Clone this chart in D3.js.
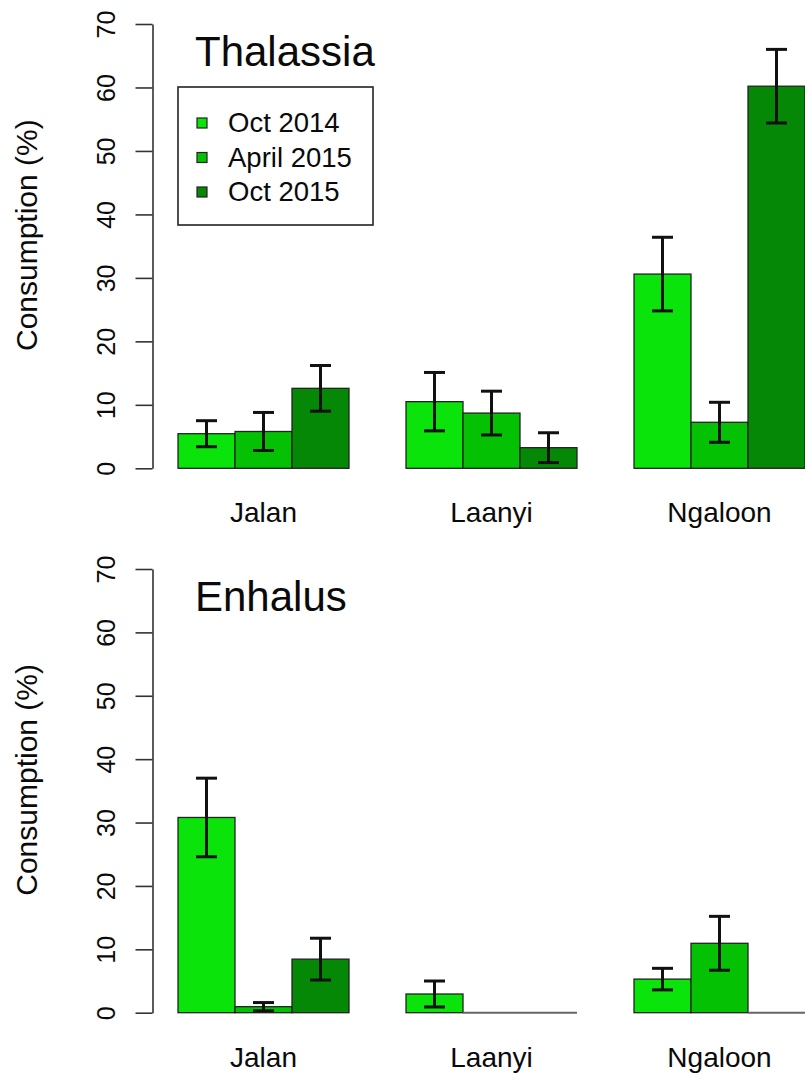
<!DOCTYPE html>
<html>
<head>
<meta charset="utf-8">
<script src="https://cdn.jsdelivr.net/npm/d3@7"></script>
<style>
  html, body { margin: 0; padding: 0; background: #fff; }
  svg { display: block; }
  text { font-family: "Liberation Sans", Arial, Helvetica, sans-serif; fill: #0a0a0a; }
</style>
</head>
<body>
<svg id="chart" width="805" height="1080"></svg>
<script>
// ---- data ----
const sites = ["Jalan", "Laanyi", "Ngaloon"];
const seasons = ["Oct 2014", "April 2015", "Oct 2015"];
const seasonColors = ["#0ae40a", "#04c104", "#058805"];
const yTicks = [0, 10, 20, 30, 40, 50, 60, 70];

// Thalassia: mean consumption (%) per site x season, and SE
const thalassiaMean = [[5.45, 5.8, 12.6], [10.5, 8.7, 3.25], [30.6, 7.25, 60.2]];
const thalassiaSE   = [[2.05, 3.0, 3.6], [4.6, 3.45, 2.35], [5.8, 3.15, 5.8]];
// Enhalus
const enhalusMean = [[30.8, 0.95, 8.45], [2.95, 0, 0], [5.3, 10.95, 0]];
const enhalusSE   = [[6.2, 0.65, 3.3], [2.05, 0, 0], [1.7, 4.25, 0]];

const panels = [
  { title: "Thalassia", mean: thalassiaMean, se: thalassiaSE, y0: 468.3, y1: 24, legend: true },
  { title: "Enhalus", mean: enhalusMean, se: enhalusSE, y0: 1012.7, y1: 569, legend: false }
];

const svg = d3.select("#chart");
const axisX = 152.5;
// x in "bar units": each group = 1 unit space + 3 bars
const x = d3.scaleLinear().domain([0, 12]).range([121, 805]);

panels.forEach(p => {
  const y = d3.scaleLinear().domain([0, 70]).range([p.y0, p.y1]);
  const g = svg.append("g");

  // y axis
  const ax = g.append("g")
    .attr("transform", `translate(${axisX},0)`)
    .call(d3.axisLeft(y).tickValues(yTicks).tickSize(17).tickSizeOuter(0).tickFormat(d3.format("d")));
  ax.select(".domain").attr("stroke", "#333").attr("stroke-width", 1.6);
  ax.selectAll(".tick line").attr("stroke", "#333").attr("stroke-width", 1.6);
  ax.selectAll(".tick text")
    .attr("x", null).attr("dy", null)
    .attr("transform", "translate(-37.5,0) rotate(-90)")
    .attr("text-anchor", "middle")
    .attr("font-size", 25)
    .attr("font-family", "Liberation Sans, Arial, sans-serif")
    .attr("fill", "#0a0a0a");

  // y title
  g.append("text")
    .attr("transform", `translate(37,${y(35) - 11}) rotate(-90)`)
    .attr("text-anchor", "middle")
    .attr("font-size", 30)
    .text("Consumption (%)");

  // bars
  const bars = [];
  sites.forEach((s, gi) => {
    seasons.forEach((se, si) => {
      bars.push({ site: s, si, u: gi * 4 + 1 + si, v: p.mean[gi][si], e: p.se[gi][si] });
    });
  });

  g.selectAll("rect.bar").data(bars.filter(d => d.v > 0)).join("rect")
    .attr("class", "bar")
    .attr("x", d => x(d.u))
    .attr("width", d => x(d.u + 1) - x(d.u))
    .attr("y", d => y(d.v))
    .attr("height", d => y(0) - y(d.v))
    .attr("fill", d => seasonColors[d.si])
    .attr("stroke", "#222")
    .attr("stroke-width", 1.3);

  g.selectAll("line.zero").data(bars.filter(d => d.v === 0)).join("line")
    .attr("class", "zero")
    .attr("x1", d => x(d.u)).attr("x2", d => x(d.u + 1))
    .attr("y1", y(0)).attr("y2", y(0))
    .attr("stroke", "#666").attr("stroke-width", 2);

  // error bars
  const eb = g.selectAll("g.err").data(bars.filter(d => d.e > 0)).join("g").attr("class", "err");
  const cx = d => (x(d.u) + x(d.u + 1)) / 2;
  eb.append("line")
    .attr("x1", cx).attr("x2", cx)
    .attr("y1", d => y(Math.max(0, d.v - d.e))).attr("y2", d => y(d.v + d.e))
    .attr("stroke", "#111").attr("stroke-width", 3);
  [-1, 1].forEach(sgn => {
    eb.append("line")
      .attr("x1", d => cx(d) - 10.5).attr("x2", d => cx(d) + 10.5)
      .attr("y1", d => y(Math.max(0, d.v + sgn * d.e))).attr("y2", d => y(Math.max(0, d.v + sgn * d.e)))
      .attr("stroke", "#111").attr("stroke-width", 3);
  });

  // site labels
  g.selectAll("text.site").data(sites).join("text")
    .attr("class", "site")
    .attr("x", (d, i) => (x(i * 4 + 1) + x(i * 4 + 4)) / 2)
    .attr("y", y(0) + 54)
    .attr("text-anchor", "middle")
    .attr("font-size", 28)
    .text(d => d);

  // panel title
  g.append("text")
    .attr("x", 195)
    .attr("y", y(70) + 42)
    .attr("font-size", 42)
    .text(p.title);

  // legend
  if (p.legend) {
    const lg = g.append("g");
    lg.append("rect")
      .attr("x", 178).attr("y", 87).attr("width", 195).attr("height", 138)
      .attr("fill", "none").attr("stroke", "#222").attr("stroke-width", 1.6);
    const items = lg.selectAll("g.item").data(seasons).join("g")
      .attr("class", "item")
      .attr("transform", (d, i) => `translate(0,${123 + i * 34.5})`);
    items.append("rect")
      .attr("x", 197).attr("y", -5).attr("width", 10).attr("height", 10)
      .attr("fill", (d, i) => seasonColors[i])
      .attr("stroke", "#222").attr("stroke-width", 1.2);
    items.append("text")
      .attr("x", 228).attr("y", 9)
      .attr("font-size", 27.5)
      .text(d => d);
  }
});
</script>
</body>
</html>
